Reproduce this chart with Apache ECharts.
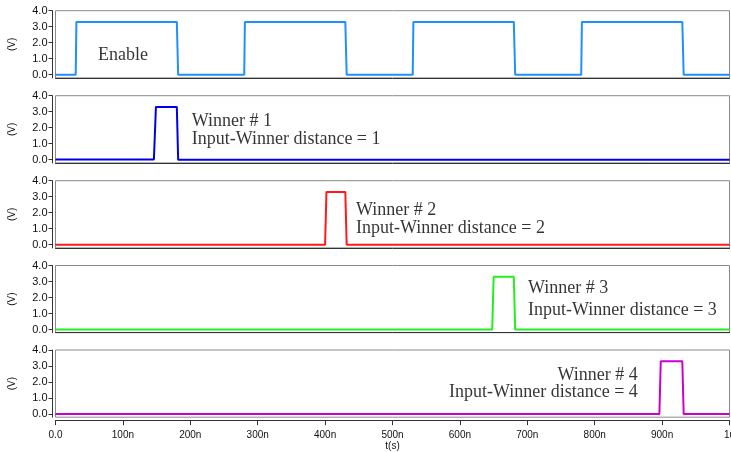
<!DOCTYPE html>
<html>
<head>
<meta charset="utf-8">
<script src="https://cdn.jsdelivr.net/npm/echarts@6/dist/echarts.min.js"></script>
<style>html,body{margin:0;padding:0;background:#fff}#c{width:731px;height:452px}</style>
</head>
<body>
<div id="c"></div>
<script>
// Time axis (ns)
var xTicks = [0, 100, 200, 300, 400, 500, 600, 700, 800, 900, 1000];
var xTickLabels = ['0.0', '100n', '200n', '300n', '400n', '500n', '600n', '700n', '800n', '900n', '1u'];
var yTicks = [0, 1, 2, 3, 4];
var yTickLabels = ['0.0', '1.0', '2.0', '3.0', '4.0'];

// Waveforms: time (ns) and voltage (V)
var enableT = [0, 30, 31, 180, 182, 280, 281, 430, 432, 530, 531, 680, 682, 780, 781, 930, 932, 1000];
var enableV = [0, 0, 3.3, 3.3, 0, 0, 3.3, 3.3, 0, 0, 3.3, 3.3, 0, 0, 3.3, 3.3, 0, 0];
var winner1T = [0, 146, 149, 180, 182, 1000];
var winner1V = [0.01, 0.02, 3.3, 3.3, 0, 0];
var winner2T = [0, 400, 402, 430, 432, 1000];
var winner2V = [0, 0, 3.3, 3.3, 0, 0];
var winner3T = [0, 648, 650, 680, 682, 1000];
var winner3V = [0, 0, 3.3, 3.3, 0, 0];
var winner4T = [0, 896, 898, 930, 932, 1000];
var winner4V = [0, 0, 3.3, 3.3, 0, 0];

// Annotation texts (panel index, time ns, voltage, text, alignment)
var notePanel = [0, 1, 1, 2, 2, 3, 3, 4, 4];
var noteT = [63, 202, 202, 446, 446, 701, 701, 864, 864];
var noteV = [1.2, 2.39, 1.25, 2.15, 1.05, 2.56, 1.19, 2.44, 1.33];
var noteText = ['Enable', 'Winner # 1', 'Input-Winner distance = 1', 'Winner # 2', 'Input-Winner distance = 2',
  'Winner # 3', 'Input-Winner distance = 3', 'Winner # 4', 'Input-Winner distance = 4'];
var noteAlign = ['left', 'left', 'left', 'left', 'left', 'left', 'left', 'right', 'right'];

var waves = [[enableT, enableV], [winner1T, winner1V], [winner2T, winner2V], [winner3T, winner3V], [winner4T, winner4V]];
var colors = ['#1e90ff', '#0000e6', '#ff1a1a', '#22ee22', '#cc00cc'];
var tops = [10.7, 95.7, 180.7, 265.5, 350];

function pairs(t, v) { return t.map(function (x, i) { return [x, v[i]]; }); }

var grids = [], xAxes = [], yAxes = [], series = [];
for (var p = 0; p < 5; p++) {
  var last = p === 4;
  grids.push({ left: 55.5, right: 1.5, top: tops[p], height: 67.2, show: true, borderColor: '#8a8a8a', borderWidth: 1,
    backgroundColor: '#fff', containLabel: false, outerBoundsMode: 'none' });
  xAxes.push({
    type: 'value', gridIndex: p, min: 0, max: 1000, interval: 100,
    offset: last ? 3 : 0,
    name: last ? 't(s)' : '', nameLocation: 'middle', nameGap: 21,
    nameTextStyle: { fontFamily: 'Liberation Sans', fontSize: 10, color: '#111' },
    axisLine: { show: true, onZero: false, lineStyle: { color: '#333', width: 1 } },
    axisTick: { show: last, length: 5, lineStyle: { color: '#333' } },
    axisLabel: {
      show: last, margin: 10, fontFamily: 'Liberation Sans', fontSize: 10, color: '#111',
      formatter: function (v) { var i = xTicks.indexOf(v); return i >= 0 ? xTickLabels[i] : ''; }
    },
    splitLine: { show: false }
  });
  yAxes.push({
    type: 'value', gridIndex: p, min: -0.2, max: 4,
    offset: 3,
    name: '(V)', nameLocation: 'middle', nameGap: 35,
    nameTextStyle: { fontFamily: 'Liberation Sans', fontSize: 10, color: '#111' },
    axisLine: { show: true, onZero: false, lineStyle: { color: '#333', width: 1 } },
    axisTick: { show: true, length: 4, customValues: yTicks, lineStyle: { color: '#333' } },
    axisLabel: {
      show: true, margin: 5, fontFamily: 'Liberation Sans', fontSize: 11, color: '#111',
      customValues: yTicks,
      formatter: function (v) { var i = yTicks.indexOf(v); return i >= 0 ? yTickLabels[i] : ''; }
    },
    splitLine: { show: false }
  });
  series.push({
    type: 'line', xAxisIndex: p, yAxisIndex: p, data: pairs(waves[p][0], waves[p][1]),
    showSymbol: false, symbol: 'none', animation: false,
    lineStyle: { color: colors[p], width: 2 }
  });
}
for (var k = 0; k < noteText.length; k++) {
  series.push({
    type: 'scatter', xAxisIndex: notePanel[k], yAxisIndex: notePanel[k],
    data: [[noteT[k], noteV[k]]], symbolSize: 0, animation: false, silent: true,
    label: {
      show: true, position: [0, 0], align: noteAlign[k], verticalAlign: 'middle',
      formatter: noteText[k], fontFamily: 'Liberation Serif', fontSize: 18, color: '#000'
    }
  });
}

var chart = echarts.init(document.getElementById('c'), null, { renderer: 'canvas' });
chart.setOption({ animation: false, backgroundColor: '#fff', grid: grids, xAxis: xAxes, yAxis: yAxes, series: series });
</script>
</body>
</html>
